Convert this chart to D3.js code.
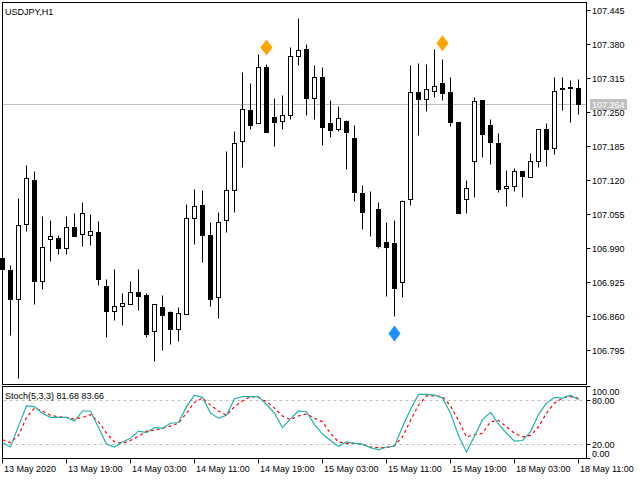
<!DOCTYPE html>
<html>
<head>
<meta charset="utf-8">
<script src="https://cdn.jsdelivr.net/npm/d3@7"></script>
<style>
  html, body { margin: 0; padding: 0; background: #fff; }
  svg { display: block; }
  text { font-family: "Liberation Sans", Arial, sans-serif; font-size: 9px; fill: #000; }
</style>
</head>
<body>
<div id="chart"></div>
<script>
// USDJPY H1 bars, 13 May 11:00 .. 18 May 11:00
const opens = [106.971,106.948,106.893,107.035,107.119,106.926,107.006,107.008,106.989,107.029,
  107.017,107.014,107.021,106.916,106.870,106.878,106.883,106.906,106.899,106.830,
  106.876,106.868,106.834,106.864,107.046,107.071,107.014,106.895,107.044,107.101,
  107.195,107.254,107.228,107.335,107.241,107.233,107.243,107.356,107.371,107.277,
  107.317,107.229,107.218,107.233,107.199,107.094,107.065,107.065,107.002,107.000,
  106.924,107.084,107.287,107.275,107.289,107.306,107.287,107.231,107.084,107.155,
  107.272,107.224,107.191,107.105,107.109,107.136,107.126,107.155,107.218,107.180,
  107.295,107.298,107.296];
const highs = [106.977,106.958,107.086,107.149,107.136,107.050,107.044,107.014,107.050,107.056,
  107.077,107.054,107.042,106.931,106.950,106.904,106.927,106.950,106.904,106.883,
  106.899,106.870,106.876,107.073,107.103,107.101,107.040,107.059,107.176,107.214,
  107.327,107.306,107.361,107.342,107.277,107.283,107.373,107.430,107.379,107.340,
  107.335,107.272,107.262,107.235,107.224,107.111,107.098,107.077,107.040,107.044,
  107.082,107.340,107.344,107.342,107.371,107.350,107.317,107.231,107.119,107.279,
  107.272,107.237,107.210,107.138,107.142,107.136,107.172,107.218,107.229,107.317,
  107.317,107.310,107.312];
const lows = [106.948,106.824,106.742,107.023,106.883,106.912,106.964,106.979,106.979,107.012,
  106.994,106.996,106.918,106.819,106.851,106.842,106.883,106.872,106.820,106.773,
  106.794,106.807,106.811,106.864,106.998,106.962,106.878,106.855,107.021,107.059,
  107.144,107.218,107.228,107.212,107.184,107.218,107.237,107.339,107.243,107.237,
  107.186,107.201,107.214,107.140,107.080,107.025,107.012,106.989,106.897,106.859,
  106.895,107.071,107.205,107.251,107.279,107.272,107.222,107.056,107.056,107.088,
  107.163,107.151,107.096,107.069,107.099,107.088,107.126,107.144,107.147,107.170,
  107.254,107.231,107.245];
const closes = [106.950,106.893,107.033,107.124,106.926,106.991,107.012,106.989,107.029,107.012,
  107.056,107.023,106.931,106.870,106.878,106.885,106.906,106.897,106.826,106.883,
  106.861,106.834,106.866,107.046,107.069,107.015,106.893,107.040,107.101,107.191,
  107.256,107.224,107.335,107.212,107.231,107.243,107.356,107.369,107.277,107.316,
  107.220,107.216,107.239,107.212,107.096,107.059,107.064,106.994,106.991,106.914,
  107.080,107.287,107.274,107.293,107.300,107.285,107.231,107.056,107.105,107.270,
  107.208,107.193,107.103,107.109,107.136,107.128,107.155,107.218,107.178,107.289,
  107.293,107.295,107.264];

// Stochastic (5,3,3)
const stochMain = [22,16,45,73,72,63,57,57,57,52,
  66,66,43,20,16,23,28,38,36,43,
  42,49,50,72,88,85,63,56,60,83,
  86,86,86,75,63,43,55,66,65,47,
  34,25,17,23,21,20,15,12,16,17,
  44,68,89,89,88,84,63,32,9,31,
  54,64,48,35,24,25,37,61,77,85,
  84,88,81.68];
const stochSignal = [26,22,32,57,70,66,60,58,57,55,
  57,61,51,35,23,21,25,31,38,39,
  42,45,49,63,78,84,74,66,60,72,
  80,86,85,79,70,59,54,59,62,56,
  51,35,23,21,21,20,16,15,15,18,
  30,53,74,87,87,86,73,53,30,33,
  35,51,53,44,35,30,32,44,63,77,
  84,86,83.66];

// arrow markers: bar index, price, kind
const markerBars = [33, 55, 49];
const markerPrices = [107.374, 107.382, 106.827];
const markerKinds = ["up", "up", "down"];

const priceTicks = [107.445,107.380,107.315,107.250,107.185,107.120,107.055,106.990,106.925,106.860,106.795];
const stochTicks = [100, 80, 20, 0];
const stochLevels = [80, 20];
const timeTickBars = [0, 8, 16, 24, 32, 40, 48, 56, 64, 72];
const timeTickLabels = ["13 May 2020","13 May 19:00","14 May 03:00","14 May 11:00","14 May 19:00",
  "15 May 03:00","15 May 11:00","15 May 19:00","18 May 03:00","18 May 11:00"];

const W = 640, H = 480;
const left = 2.5, right = 586.5;
const mainTop = 2.5, mainBottom = 384.5;
const subTop = 386.5, subBottom = 458.5;

const svg = d3.select("#chart").append("svg")
    .attr("width", W)
    .attr("height", H);

svg.append("rect").attr("width", W).attr("height", H).attr("fill", "#fff");

let x = d3.scaleLinear()
    .domain([0, opens.length - 1])
    .range([2.5, 578.5]);

let y = d3.scaleLinear()
    .domain([106.7296, 107.4599])
    .range([mainBottom, mainTop]);

let sy = d3.scaleLinear()
    .domain([0, 100])
    .range([subBottom, subTop]);

const px = v => Math.round(v - 0.5) + 0.5;

// current price line
let last = closes[closes.length - 1];
svg.append("line")
    .attr("x1", left).attr("x2", right)
    .attr("y1", px(y(last))).attr("y2", px(y(last)))
    .attr("stroke", "#c0c0c0");

// candles
let bars = svg.append("g").selectAll("g")
    .data(d3.range(opens.length))
    .enter().append("g");

bars.append("line")
    .attr("x1", i => x(i)).attr("x2", i => x(i))
    .attr("y1", i => px(y(highs[i]))).attr("y2", i => px(y(lows[i])))
    .attr("stroke", "#000");

bars.append("rect")
    .attr("x", i => x(i) - 2)
    .attr("width", 4)
    .attr("y", i => px(y(Math.max(opens[i], closes[i]))))
    .attr("height", i => Math.max(0, px(y(Math.min(opens[i], closes[i]))) - px(y(Math.max(opens[i], closes[i])))))
    .attr("fill", i => closes[i] >= opens[i] ? "#fff" : "#000")
    .attr("stroke", "#000");

// markers
svg.append("g").selectAll("path")
    .data(d3.range(markerBars.length))
    .enter().append("path")
    .attr("transform", i => "translate(" + x(markerBars[i]) + "," + y(markerPrices[i]) + ")")
    .attr("d", "M0,-8L6,0L0,8L-6,0Z")
    .attr("fill", i => markerKinds[i] === "up" ? "#ffa500" : "#1e90ff");

// frames
svg.append("rect")
    .attr("x", left).attr("y", mainTop)
    .attr("width", right - left).attr("height", mainBottom - mainTop)
    .attr("fill", "none").attr("stroke", "#000");
svg.append("rect")
    .attr("x", left).attr("y", subTop)
    .attr("width", right - left).attr("height", subBottom - subTop)
    .attr("fill", "none").attr("stroke", "#000");

// price axis
let pAxis = svg.append("g");
priceTicks.forEach(p => {
    let yy = px(y(p));
    pAxis.append("line")
        .attr("x1", right).attr("x2", right + 4)
        .attr("y1", yy).attr("y2", yy)
        .attr("stroke", "#000");
    pAxis.append("text")
        .attr("x", 592).attr("y", yy + 3.5)
        .text(p.toFixed(3));
});

// current price tag
let tagY = px(y(last));
svg.append("rect")
    .attr("x", 590).attr("y", tagY - 5.5)
    .attr("width", 37).attr("height", 11)
    .attr("fill", "#c0c0c0");
svg.append("text")
    .attr("x", 592).attr("y", tagY + 3.5)
    .style("fill", "#fff")
    .text(last.toFixed(3));

// stochastic levels
stochLevels.forEach(v => {
    svg.append("line")
        .attr("x1", left + 1).attr("x2", right - 1)
        .attr("y1", px(sy(v))).attr("y2", px(sy(v)))
        .attr("stroke", "#c0c0c0")
        .attr("stroke-dasharray", "3,3");
});

let line = d3.line()
    .x((d, i) => x(i))
    .y(d => sy(d));

svg.append("path")
    .attr("d", line(stochSignal))
    .attr("fill", "none")
    .attr("stroke", "#ff0000")
    .attr("stroke-width", 1.2)
    .attr("stroke-dasharray", "3,3");

svg.append("path")
    .attr("d", line(stochMain))
    .attr("fill", "none")
    .attr("stroke", "#20b2aa")
    .attr("stroke-width", 1.2);

// stochastic axis
stochTicks.forEach(v => {
    let yy = px(sy(v));
    svg.append("line")
        .attr("x1", right).attr("x2", right + 4)
        .attr("y1", yy).attr("y2", yy)
        .attr("stroke", "#000");
    let ty = Math.min(Math.max(yy, subTop + 5), subBottom - 5.5);
    svg.append("text")
        .attr("x", 592).attr("y", ty + 3.5)
        .text(v.toFixed(2));
});

// time axis
timeTickBars.forEach((b, k) => {
    svg.append("line")
        .attr("x1", x(b)).attr("x2", x(b))
        .attr("y1", subBottom).attr("y2", subBottom + 5)
        .attr("stroke", "#000");
    svg.append("text")
        .attr("x", x(b) + 1.5).attr("y", 471.5)
        .text(timeTickLabels[k]);
});

// labels
svg.append("text").attr("x", 5).attr("y", 15).text("USDJPY,H1");
svg.append("text").attr("x", 5).attr("y", 398.5)
    .text("Stoch(5,3,3) " + stochMain[stochMain.length - 1].toFixed(2) + " " + stochSignal[stochSignal.length - 1].toFixed(2));
</script>
</body>
</html>
